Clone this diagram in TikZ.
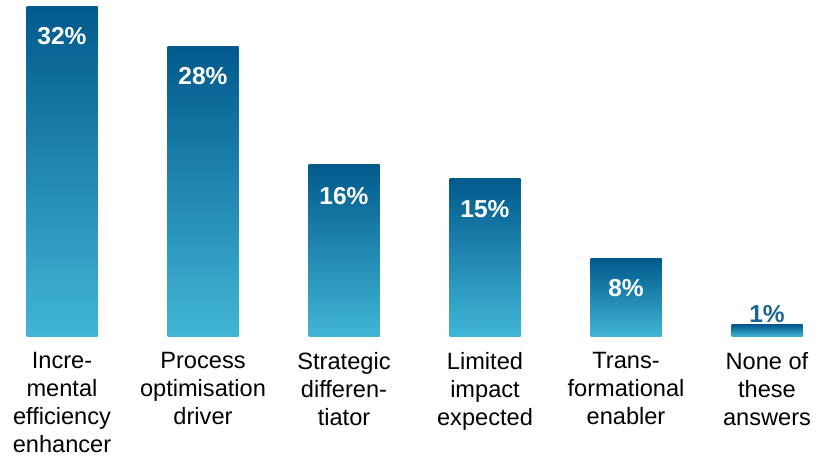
\documentclass[tikz,border=0pt]{standalone}
\usepackage{fontspec}
\setmainfont{Liberation Sans}
\definecolor{barTop}{HTML}{025A8C}
\definecolor{barBottom}{HTML}{41B6D6}
\definecolor{pctBlue}{HTML}{1A6496}
\begin{document}
\begin{tikzpicture}[x=1pt, y=1pt,
		bar/.style = {top color=barTop, bottom color=barBottom, minimum width=71pt, inner sep=0pt, anchor=south},
		pct/.style = {text=white, inner sep=0pt, font=\fontsize{24.5}{28}\selectfont\bfseries},
		cat/.style = {inner sep=0pt, anchor=north, align=center, font=\fontsize{23.6}{28}\selectfont}]

		\useasboundingbox (0,0) rectangle (819,458);

		\node[bar, minimum height=330pt] (b1) at (62,121) {};
		\node[bar, minimum height=290pt] (b2) at (203,121) {};
		\node[bar, minimum height=172pt] (b3) at (344,121) {};
		\node[bar, minimum height=158pt] (b4) at (485,121) {};
		\node[bar, minimum height=78pt] (b5) at (626,121) {};
		\node[bar, minimum height=12pt] (b6) at (767,121) {};

		\node[pct] (p1) at (62,422) {32\%};
		\node[pct] (p2) at (203,382) {28\%};
		\node[pct] (p3) at (344,262) {16\%};
		\node[pct] (p4) at (485,249) {15\%};
		\node[pct] (p5) at (626,170) {8\%};
		\node[pct, text=pctBlue] (p6) at (767,144) {1\%};

		\node[cat] (c1) at (62,106) {Incre-\\mental\\efficiency\\enhancer};
		\node[cat] (c2) at (203,106) {Process\\optimisation\\driver};
		\node[cat] (c3) at (344,106) {Strategic\\differen-\\tiator};
		\node[cat] (c4) at (485,106) {Limited\\impact\\expected};
		\node[cat] (c5) at (626,106) {Trans-\\formational\\enabler};
		\node[cat] (c6) at (767,106) {None of\\these\\answers};
	\end{tikzpicture}
\end{document}
